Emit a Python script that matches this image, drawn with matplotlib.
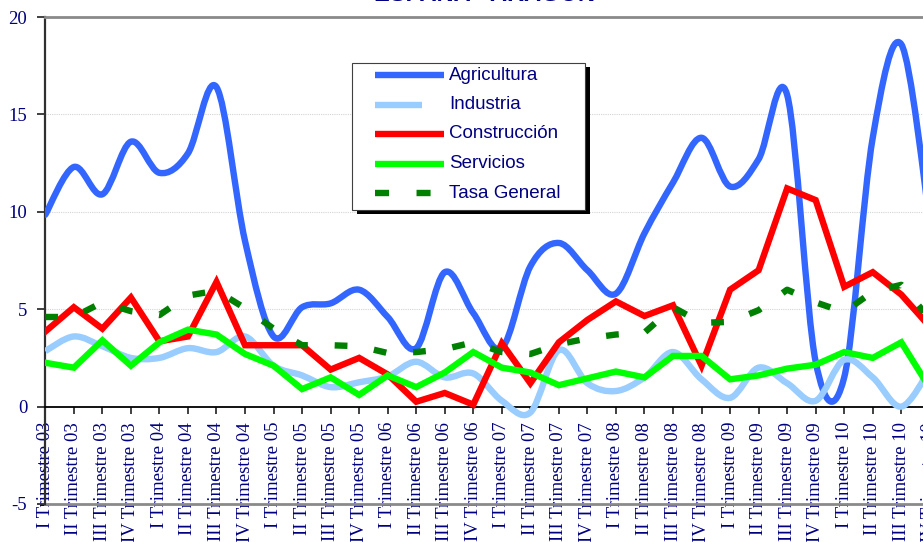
import numpy as np
import matplotlib
matplotlib.use("Agg")
import matplotlib.pyplot as plt
from matplotlib.path import Path
from matplotlib.patches import PathPatch, Rectangle
from matplotlib.lines import Line2D

plt.rcParams["axes.unicode_minus"] = False

# categories: quarters 2003-2010
romans = ["I", "II", "III", "IV"]
years = ["03", "04", "05", "06", "07", "08", "09", "10"]
labels = [f"{q} Trimestre {y}" for y in years for q in romans]

agricultura = [9.85, 12.3, 10.9, 13.6, 12.0, 13.0, 16.4, 8.5, 3.6, 5.1, 5.3, 6.0,
               4.6, 3.0, 6.9, 4.8, 3.0, 7.2, 8.4, 7.0, 5.8, 8.9, 11.5, 13.8,
               11.3, 12.7, 16.0, 2.3, 1.5, 13.8, 18.6, 9.5]
industria = [2.85, 3.6, 3.1, 2.5, 2.5, 3.0, 2.8, 3.6, 2.1, 1.6, 1.0, 1.25,
             1.55, 2.3, 1.5, 1.7, 0.3, -0.3, 2.9, 1.2, 0.8, 1.5, 2.8, 1.4,
             0.45, 2.0, 1.2, 0.3, 2.4, 1.5, 0.0, 1.9]
construccion = [3.85, 5.1, 4.0, 5.6, 3.35, 3.6, 6.4, 3.15, 3.15, 3.15, 1.9, 2.5,
                1.65, 0.25, 0.7, 0.1, 3.25, 1.2, 3.3, 4.45, 5.4, 4.65, 5.2, 2.1,
                6.0, 7.0, 11.2, 10.6, 6.15, 6.9, 5.75, 4.1]
servicios = [2.25, 2.0, 3.4, 2.1, 3.3, 3.95, 3.7, 2.7, 2.1, 0.9, 1.5, 0.6,
             1.6, 1.0, 1.75, 2.8, 2.0, 1.75, 1.1, 1.45, 1.8, 1.5, 2.6, 2.6,
             1.4, 1.6, 1.95, 2.15, 2.8, 2.5, 3.3, 0.95]
tasa_general = [4.6, 4.6, 5.35, 4.9, 4.7, 5.7, 5.95, 5.05, 4.0, 3.15, 3.15, 3.1,
                2.75, 2.8, 2.95, 3.3, 2.8, 2.7, 3.2, 3.5, 3.7, 3.8, 5.1, 4.3,
                4.35, 4.95, 6.0, 5.35, 4.85, 5.9, 6.25, 4.5]

navy = "#000080"
W, H = 923, 542


def smooth_path(xs, ys):
    # excel style smoothed line: bezier segments through the points
    n = len(xs)
    verts = [(xs[0], ys[0])]
    codes = [Path.MOVETO]
    for i in range(n - 1):
        a = max(i - 1, 0)
        b = min(i + 2, n - 1)
        c1 = (xs[i] + (xs[i + 1] - xs[a]) / 6, ys[i] + (ys[i + 1] - ys[a]) / 6)
        c2 = (xs[i + 1] - (xs[b] - xs[i]) / 6, ys[i + 1] - (ys[b] - ys[i]) / 6)
        verts += [c1, c2, (xs[i + 1], ys[i + 1])]
        codes += [Path.CURVE4] * 3
    return Path(verts, codes)


fig = plt.figure(figsize=(W / 100, H / 100), dpi=100)
x0, x1 = 45.3, 929.8
ytop, ybot = 17, 504
ax = fig.add_axes([x0 / W, 1 - ybot / H, (x1 - x0) / W, (ybot - ytop) / H])

# axis crosses at 0 (set before the tick labels, it resets them)
ax.spines["bottom"].set_position(("data", 0))
ax.spines["bottom"].set_color("#000000")
ax.spines["bottom"].set_linewidth(1.3)
ax.spines["left"].set_color("#303030")
ax.spines["left"].set_linewidth(1.6)
ax.spines["top"].set_color("#8a8a8a")
ax.spines["top"].set_linewidth(2)
ax.spines["right"].set_visible(False)

x = np.arange(len(labels))
lw = 4.6

ax.add_patch(PathPatch(smooth_path(x, agricultura), fill=False, edgecolor="#3366FF",
                       lw=lw, capstyle="round", joinstyle="round", zorder=3))
ax.add_patch(PathPatch(smooth_path(x, industria), fill=False, edgecolor="#99CCFF",
                       lw=lw, capstyle="butt", joinstyle="round", zorder=3))
ax.plot(x, construccion, color="#FF0000", lw=lw, solid_joinstyle="miter", zorder=4)
ax.plot(x, servicios, color="#00FF00", lw=lw, solid_joinstyle="miter", zorder=5)
ax.plot(x, tasa_general, color="#008000", lw=lw, linestyle=(0, (2.0, 4.2)),
        dash_capstyle="butt", zorder=6)

ax.set_xlim(0, 31)
ax.set_ylim(-5, 20)
ax.set_yticks([-5, 0, 5, 10, 15, 20])
ax.set_xticks(x)
ax.set_xticklabels(labels, rotation=90, fontfamily="Liberation Serif",
                   fontsize=13.5, color=navy, va="top", ha="center")
ax.set_yticklabels(["-5", "0", "5", "10", "15", "20"], fontfamily="Liberation Serif",
                   fontsize=13.5, color=navy)

ax.tick_params(axis="x", direction="out", length=5, width=1.2, pad=6, color="#202020")
ax.tick_params(axis="y", direction="out", length=6, width=1.2, pad=7, color="#202020")

for yv in [5, 10, 15]:
    ax.axhline(yv, color="#d4d4d4", lw=0.8, ls=(0, (1, 1)), zorder=1)
ax.axhline(-5, color="#8a8a8a", lw=2, zorder=2, clip_on=False)

# title, cut off at the top edge in the original
fig.text(484 / W, 1 - 0.8 / H, "ESPAÑA - ARAGÓN", ha="center", va="baseline",
         fontsize=17, fontweight="bold", color=navy, family="Liberation Sans")


# legend box with black shadow
def fx(px):
    return px / W


def fy(py):
    return 1 - py / H


fig.add_artist(Rectangle((fx(357), fy(214)), fx(590) - fx(357), fy(67) - fy(214),
                         transform=fig.transFigure, facecolor="black", edgecolor="none"))
fig.add_artist(Rectangle((fx(352), fy(210)), fx(585) - fx(352), fy(63) - fy(210),
                         transform=fig.transFigure, facecolor="white",
                         edgecolor="#404040", lw=0.8))

names = ["Agricultura", "Industria", "Construcción", "Servicios", "Tasa General"]
colors = ["#3366FF", "#99CCFF", "#FF0000", "#00FF00", "#008000"]
rows = [75, 104.5, 134, 163.5, 193]
for name, col, ry in zip(names, colors, rows):
    end = 422 if name == "Industria" else 444
    ls = (0, (2.2, 4.3)) if name == "Tasa General" else "-"
    fig.add_artist(Line2D([fx(375), fx(end)], [fy(ry), fy(ry)], transform=fig.transFigure,
                          color=col, lw=lw, linestyle=ls, solid_capstyle="butt",
                          dash_capstyle="butt"))
    fig.text(fx(449), fy(ry), name, ha="left", va="center", fontsize=13.5,
             color=navy, family="Liberation Sans")

fig.savefig("out.png", dpi=100)
